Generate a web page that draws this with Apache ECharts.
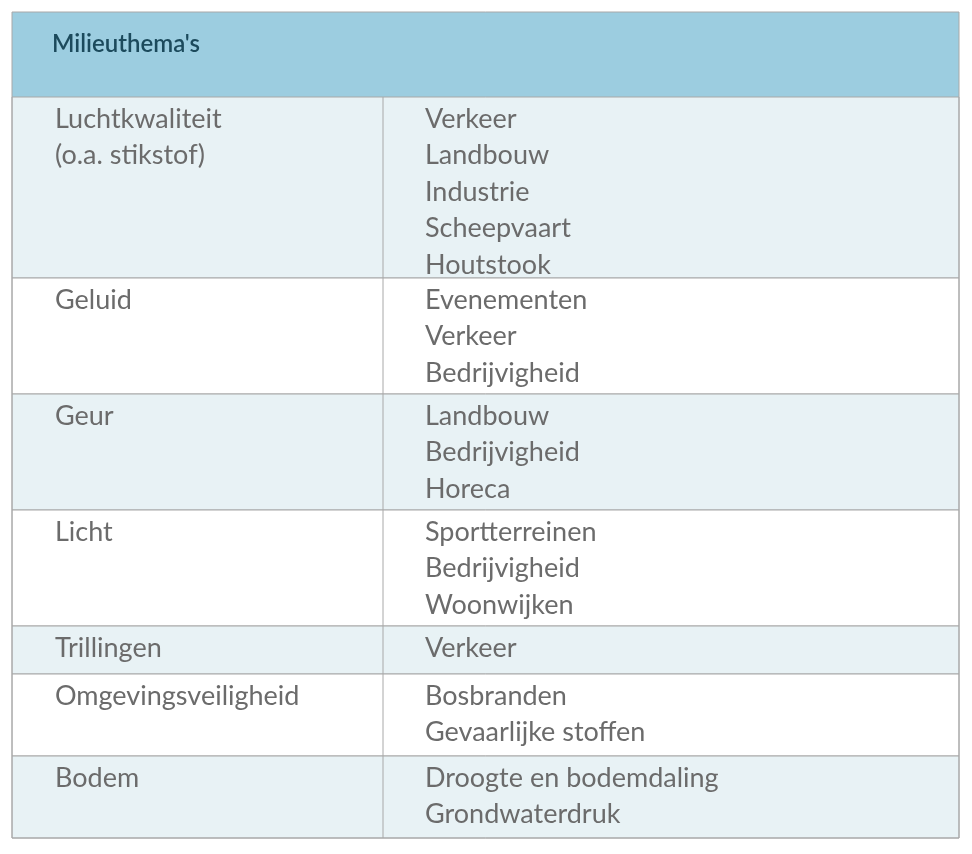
<!DOCTYPE html>
<html>
<head>
<meta charset="utf-8">
<script src="https://cdn.jsdelivr.net/npm/echarts@6/dist/echarts.min.js"></script>
<style>html,body{margin:0;padding:0;background:#fff}#main{width:972px;height:854px}</style>
</head>
<body>
<div id="main"></div>
<script>
// Tabel data
var title = "Milieuthema's";
var themes = ['Luchtkwaliteit\n(o.a. stikstof)', 'Geluid', 'Geur', 'Licht', 'Trillingen', 'Omgevingsveiligheid', 'Bodem'];
var sources = [
  ['Verkeer', 'Landbouw', 'Industrie', 'Scheepvaart', 'Houtstook'],
  ['Evenementen', 'Verkeer', 'Bedrijvigheid'],
  ['Landbouw', 'Bedrijvigheid', 'Horeca'],
  ['Sportterreinen', 'Bedrijvigheid', 'Woonwijken'],
  ['Verkeer'],
  ['Bosbranden', 'Gevaarlijke stoffen'],
  ['Droogte en bodemdaling', 'Grondwaterdruk']
];

(function() {
    var myChart = echarts.init(document.getElementById('main'));
    var left = 12, right = 959, top = 12, headH = 85, divX = 383;
    var lineH = 36.4;
    var els = [];
    els.push({ type: 'rect', shape: { x: left, y: top, width: right - left, height: headH },
        style: { fill: '#9ccde0' } });
    els.push({ type: 'text', x: 52, y: 44, style: { text: title, font: '600 24px Lato, sans-serif',
        fill: '#1c4a5c', verticalAlign: 'middle' } });
    var y = top + headH;
    for (var i = 0; i < themes.length; i++) {
        var n = sources[i].length;
        var h = i === 0 ? 181 : 34 * n + 14;
        if (i === themes.length - 1) h = 838 - y;
        els.push({ type: 'rect', shape: { x: left, y: y, width: right - left, height: h },
            style: { fill: i % 2 === 0 ? '#e8f2f5' : '#ffffff', stroke: '#a8a8a8', lineWidth: 1 } });
        els.push({ type: 'line', shape: { x1: divX, y1: y, x2: divX, y2: y + h },
            style: { stroke: '#a8a8a8', lineWidth: 1 } });
        els.push({ type: 'text', x: 55, y: y + 4, style: { text: themes[i], font: '27px Lato, sans-serif',
            fill: '#6b6b6b', lineHeight: lineH } });
        els.push({ type: 'text', x: 425, y: y + 4, style: { text: sources[i].join('\n'), font: '27px Lato, sans-serif',
            fill: '#6b6b6b', lineHeight: lineH } });
        y += h;
    }
    els.push({ type: 'rect', shape: { x: left, y: top, width: right - left, height: 838 - top },
        style: { fill: 'none', stroke: '#a8a8a8', lineWidth: 1 } });
    myChart.setOption({ graphic: { elements: els } });
})();
</script>
</body>
</html>
